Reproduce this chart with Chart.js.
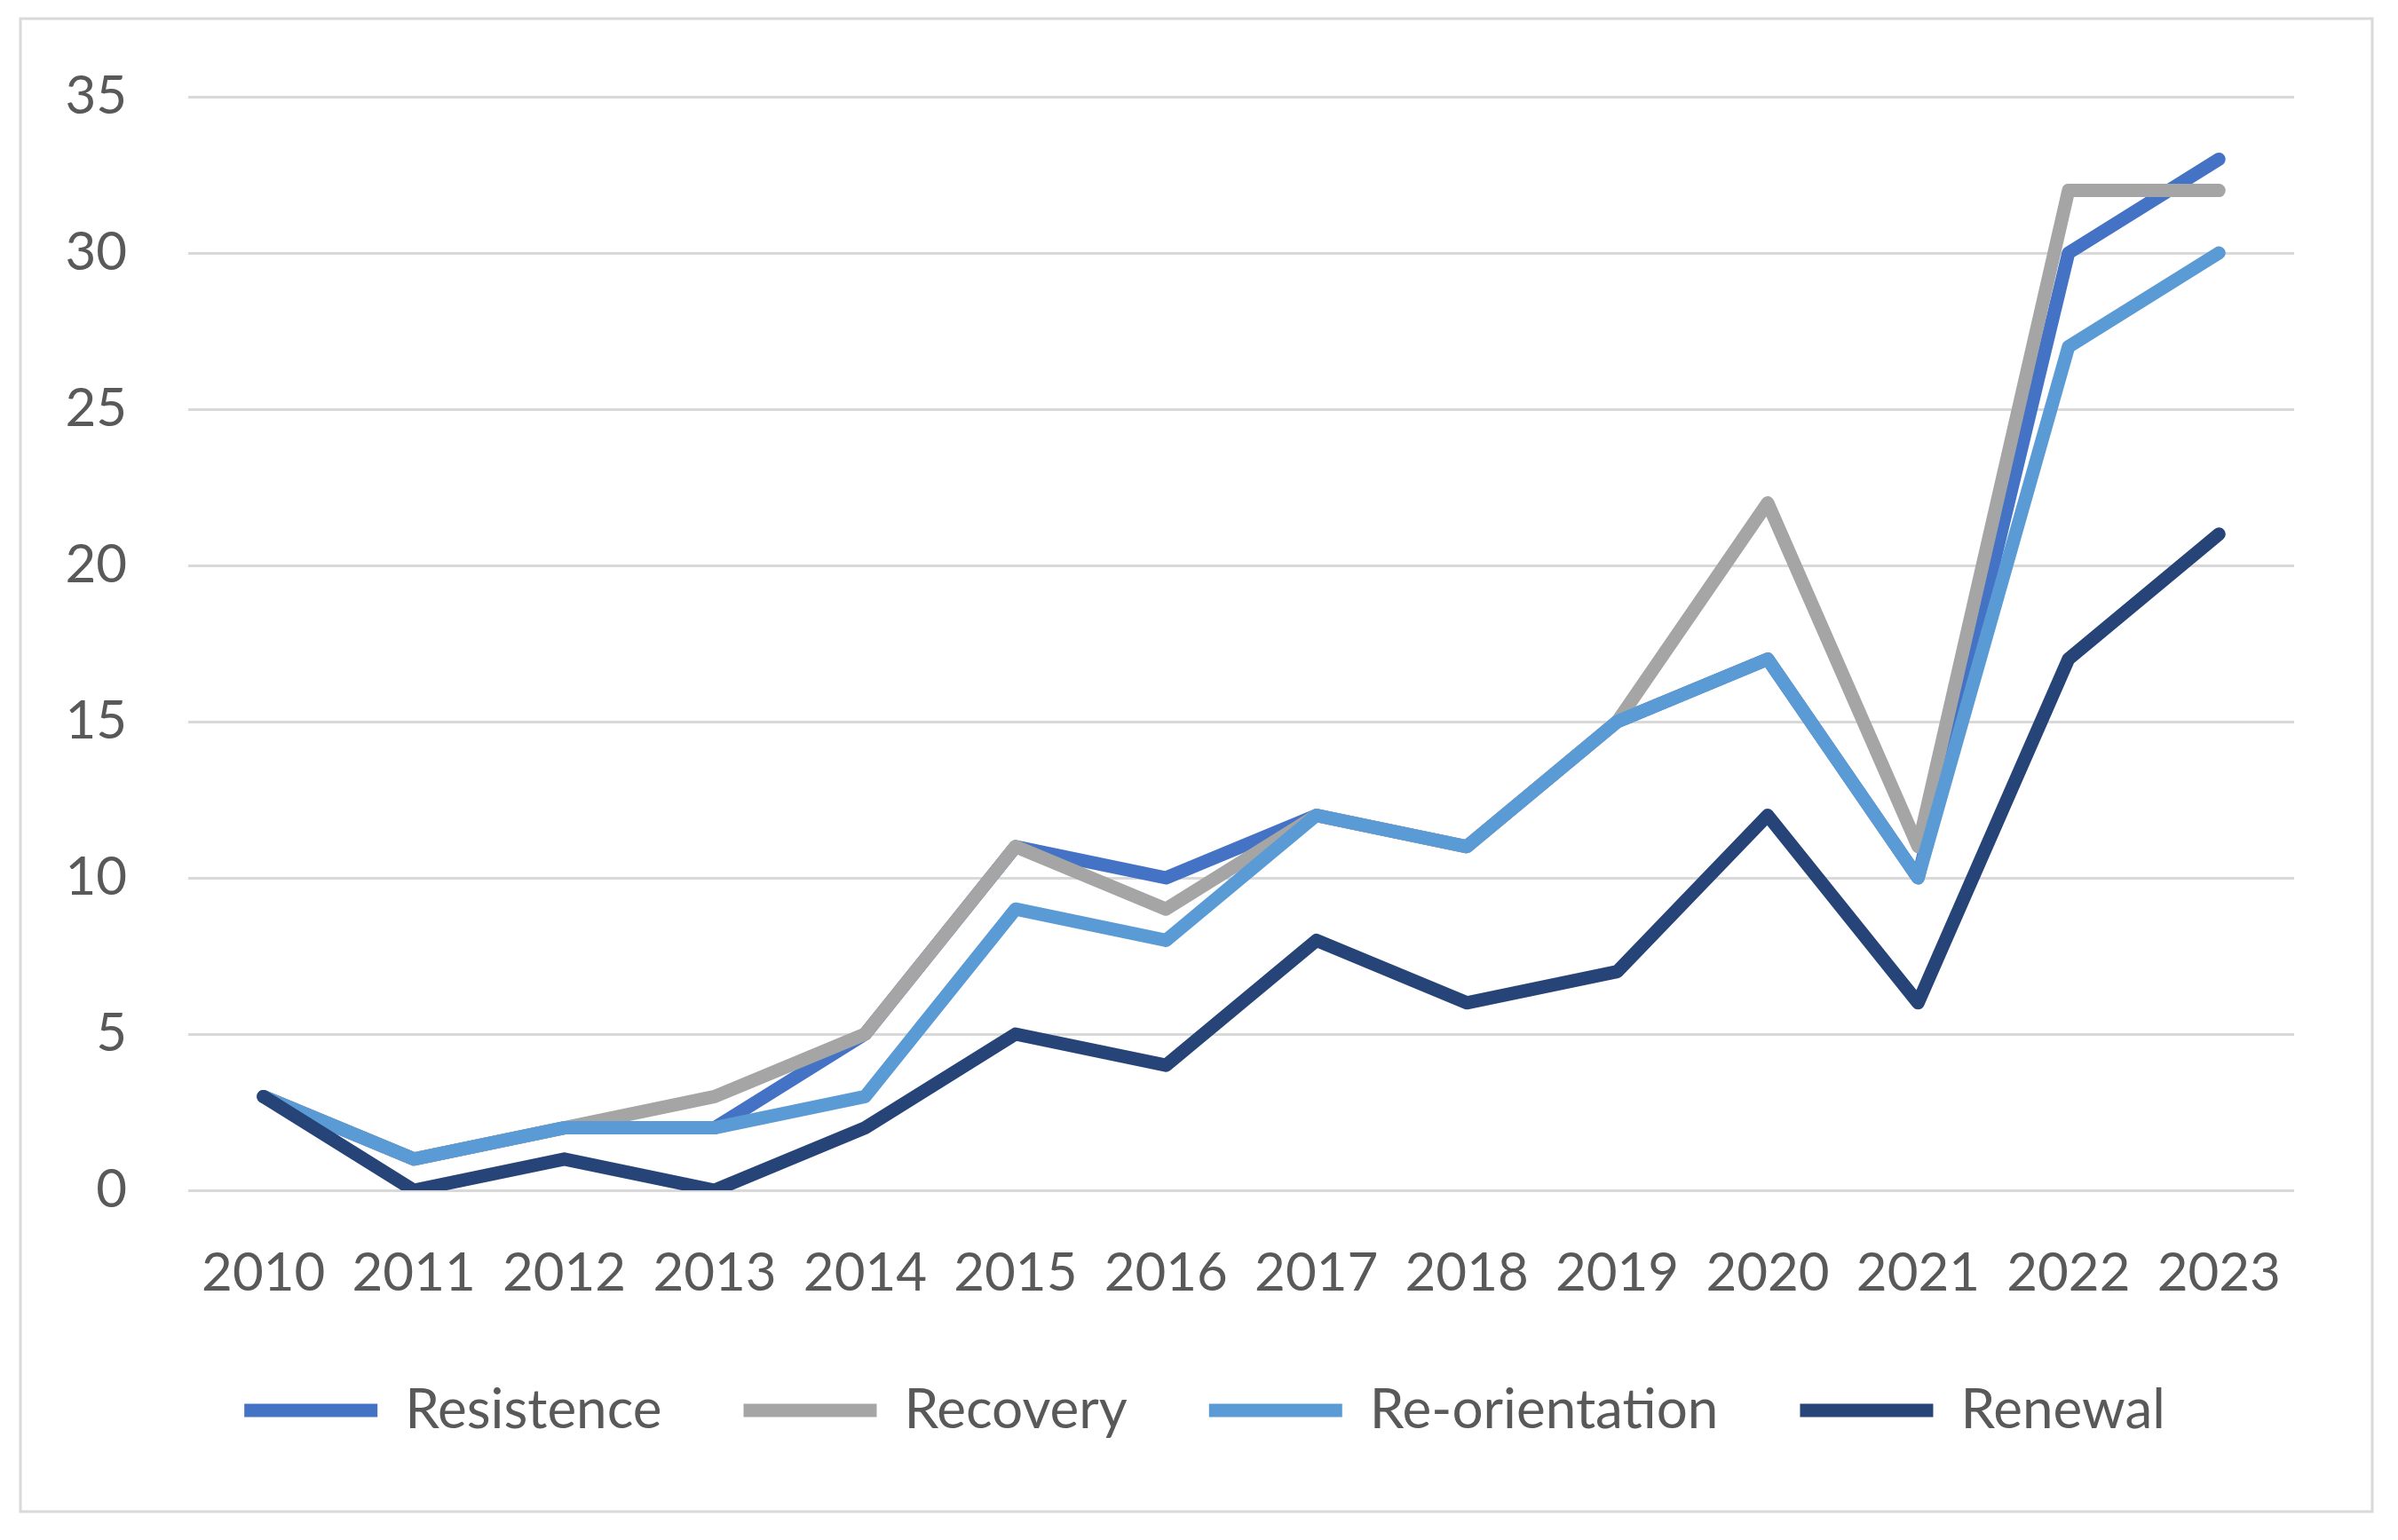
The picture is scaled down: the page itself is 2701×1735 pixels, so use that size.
<!DOCTYPE html>
<html>
<head>
<meta charset="utf-8">
<script src="https://cdn.jsdelivr.net/npm/chart.js@4.4.1/dist/chart.umd.min.js"></script>
<style>
  html, body { margin: 0; padding: 0; background: #ffffff; }
  #wrap { position: relative; width: 2701px; height: 1735px; }
</style>
</head>
<body>
<div id="wrap"><canvas id="chart"></canvas></div>
<script>
const years = ['2010', '2011', '2012', '2013', '2014', '2015', '2016', '2017', '2018', '2019', '2020', '2021', '2022', '2023'];
const seriesNames = ['Resistence', 'Recovery', 'Re-orientation', 'Renewal'];
const resistence = [3, 1, 2, 2, 5, 11, 10, 12, 11, 15, 17, 10, 30, 33];
const recovery = [3, 1, 2, 3, 5, 11, 9, 12, 11, 15, 22, 11, 32, 32];
const reorientation = [3, 1, 2, 2, 3, 9, 8, 12, 11, 15, 17, 10, 27, 30];
const renewal = [3, 0, 1, 0, 2, 5, 4, 8, 6, 7, 12, 6, 17, 21];
const yTicks = [0, 5, 10, 15, 20, 25, 30, 35];

const colors = ['#4472C4', '#A5A5A5', '#5B9BD5', '#264478'];
const textColor = '#595959';
const gridColor = '#d9d9d9';

// outer frame around the whole chart, like the Excel chart border
const framePlugin = {
    id: 'frame',
    beforeDraw(chart) {
        const ctx = chart.ctx;
        ctx.save();
        ctx.strokeStyle = gridColor;
        ctx.lineWidth = 3;
        ctx.strokeRect(23, 21, 2649, 1682);
        ctx.restore();
    },
    // legend in the original is centred on the whole frame, not on the plot box
    afterLayout(chart) {
        if (chart.legend) {
            chart.legend.left += 65;
            chart.legend.right += 65;
        }
    }
};

function makeSet(label, values, i) {
    return {
        label,
        data: values,
        borderColor: colors[i],
        backgroundColor: colors[i],
        borderWidth: 15,
        borderCapStyle: 'round',
        borderJoinStyle: 'round',
        pointRadius: 0,
        pointHoverRadius: 0,
        tension: 0,
        // first series at the bottom, last one drawn on top
        order: 4 - i
    };
}

const ctx = document.getElementById('chart').getContext('2d');
const chart = new Chart(ctx, {
    type: 'line',
    data: {
        labels: years,
        datasets: [
            makeSet(seriesNames[0], resistence, 0),
            makeSet(seriesNames[1], recovery, 1),
            makeSet(seriesNames[2], reorientation, 2),
            makeSet(seriesNames[3], renewal, 3)
        ]
    },
    options: {
        responsive: true,
        maintainAspectRatio: false,
        animation: false,
        layout: {
            padding: { left: 0, right: 117, top: 109, bottom: 105 }
        },
        plugins: {
            tooltip: { enabled: false },
            legend: {
                position: 'bottom',
                labels: {
                    usePointStyle: true,
                    pointStyle: 'line',
                    pointStyleWidth: 150,
                    padding: 92,
                    color: textColor,
                    font: { family: 'Lato', size: 62 },
                    sort: (a, b) => a.datasetIndex - b.datasetIndex
                }
            }
        },
        scales: {
            x: {
                offset: true,
                grid: { display: false },
                border: { display: false },
                ticks: {
                    color: textColor,
                    font: { family: 'Lato', size: 60 },
                    padding: 50,
                    maxRotation: 0,
                    autoSkip: false
                },
                afterFit(scale) { scale.height = 125; }
            },
            y: {
                min: yTicks[0],
                max: yTicks[yTicks.length - 1],
                afterBuildTicks(scale) { scale.ticks = yTicks.map(v => ({ value: v })); },
                grid: { color: gridColor, lineWidth: 3, drawTicks: false },
                border: { display: false },
                ticks: {
                    color: textColor,
                    font: { family: 'Lato', size: 60 },
                    padding: 69
                },
                afterFit(scale) { scale.width = 212; }
            }
        }
    },
    plugins: [framePlugin]
});
</script>
</body>
</html>
